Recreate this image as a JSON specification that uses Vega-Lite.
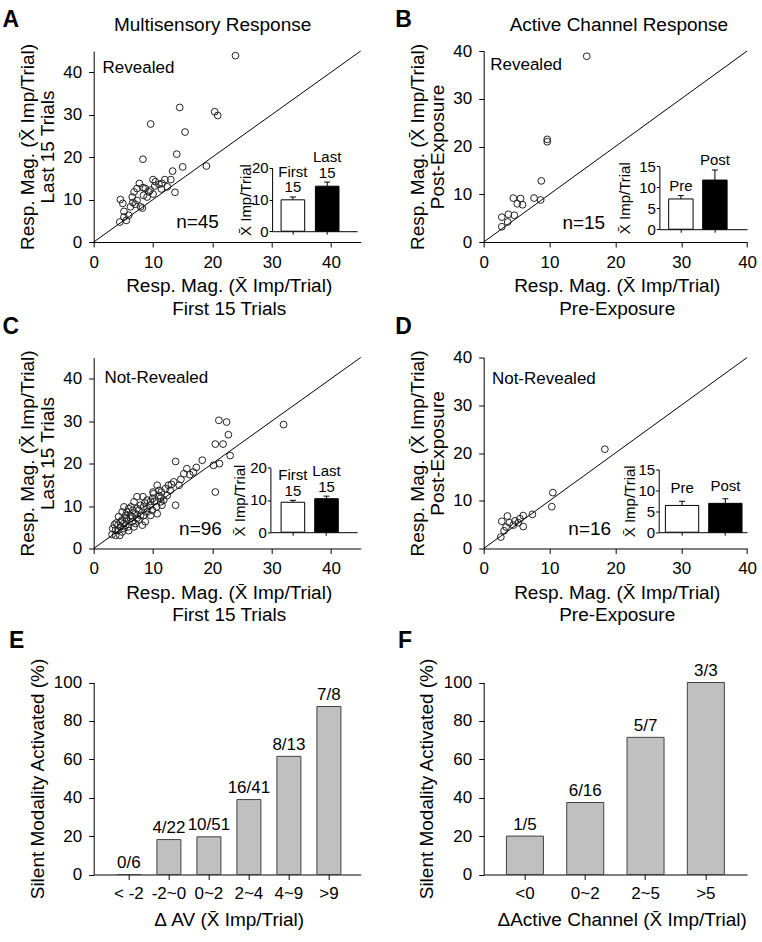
{
"$schema": "https://vega.github.io/schema/vega-lite/v6.json",
"background": "white",
"padding": {"left": 1.7, "top": 8, "right": 0, "bottom": 0},
"columns": 2,
"bounds": "flush",
"spacing": {"row": 115.5, "column": 123},
"config": {
 "font": "Liberation Sans",
 "view": {"stroke": null},
 "axis": {"grid": false, "domainColor": "#000", "tickColor": "#000", "labelColor": "#000", "titleColor": "#000", "titleFontWeight": "normal", "labelFont": "Liberation Sans", "titleFont": "Liberation Sans", "labelFontSize": 17, "titleFontSize": 19, "tickSize": 5, "labelPadding": 7, "labelFlush": false, "labelOverlap": false, "domainWidth": 1, "tickWidth": 1},
 "text": {"font": "Liberation Sans", "color": "#000"}
},
"concat": [
{
 "width": 267, "height": 191,
 "resolve": {"scale": {"x": "independent", "y": "independent"}},
 "layer": [
  {
   "data": {"values": [{"x":23.9,"y":43.9},{"x":14.5,"y":31.7},{"x":20.4,"y":30.7},{"x":20.9,"y":29.8},{"x":9.6,"y":27.8},{"x":15.4,"y":25.9},{"x":14.0,"y":20.7},{"x":8.3,"y":19.5},{"x":15.0,"y":17.7},{"x":13.3,"y":16.7},{"x":19.0,"y":17.9},{"x":10.0,"y":14.7},{"x":12.0,"y":14.7},{"x":13.0,"y":14.7},{"x":7.7,"y":13.8},{"x":8.3,"y":12.8},{"x":10.3,"y":13.2},{"x":11.0,"y":13.6},{"x":9.5,"y":12.2},{"x":11.4,"y":12.5},{"x":6.8,"y":11.8},{"x":9.3,"y":11.8},{"x":8.4,"y":11.0},{"x":10.0,"y":11.3},{"x":13.7,"y":11.7},{"x":4.5,"y":10.0},{"x":4.9,"y":9.1},{"x":6.6,"y":9.3},{"x":7.0,"y":8.9},{"x":8.2,"y":8.0},{"x":5.1,"y":7.2},{"x":5.5,"y":5.1},{"x":4.4,"y":4.7},{"x":5.9,"y":6.3},{"x":8.7,"y":12.6},{"x":7.3,"y":9.8},{"x":6.2,"y":8.3},{"x":7.9,"y":8.3},{"x":9.0,"y":10.6},{"x":11.5,"y":13.8},{"x":12.4,"y":13.0},{"x":7.3,"y":12.6},{"x":5.1,"y":5.9},{"x":6.5,"y":10.6},{"x":10.4,"y":14.2}]},
   "mark": {"type": "point", "shape": "circle", "filled": false, "stroke": "#222", "strokeWidth": 1, "size": 46, "opacity": 1},
   "encoding": {
    "x": {"field": "x", "type": "quantitative", "scale": {"domain": [0, 45], "nice": false, "zero": false}, "axis": {"values": [0,10,20,30,40], "title": ["Resp. Mag. (X\u0304 Imp/Trial)", "First 15 Trials"], "titleX": 135, "titleY": 49.8, "titleAlign": "center", "titleBaseline": "alphabetic", "titleLineHeight": 22.4, "titleAngle": 0}},
    "y": {"field": "y", "type": "quantitative", "scale": {"domain": [0, 45], "nice": false, "zero": false}, "axis": {"values": [0,10,20,30,40], "title": ["Resp. Mag. (X\u0304 Imp/Trial)", "Last 15 Trials"], "titleX": -60, "titleY": 95.5, "titleAlign": "center", "titleBaseline": "alphabetic", "titleLineHeight": 20, "titleAngle": -90}}
   }
  },
  {
   "data": {"values": [{}]},
   "mark": {"type": "rule", "color": "#000", "strokeWidth": 1},
   "encoding": {
    "x": {"datum": 0, "type": "quantitative", "scale": {"domain": [0, 45], "nice": false}, "axis": {"orient": "top", "title": "Multisensory Response", "domain": false, "ticks": false, "labels": false, "titleX": 118.4, "titleY": -20.5, "titleAlign": "center", "titleBaseline": "alphabetic", "titleAngle": 0}},
    "y": {"datum": 0, "type": "quantitative", "scale": {"domain": [0, 45], "nice": false}, "axis": null},
    "x2": {"datum": 45}, "y2": {"datum": 45}
   }
  },
  {
   "data": {"values": [{"t": "Revealed"}]},
   "mark": {"type": "text", "align": "left", "baseline": "middle", "fontSize": 17},
   "encoding": {
    "x": {"datum": 1.5, "type": "quantitative", "scale": {"domain": [0, 45], "nice": false}, "axis": {"orient": "top", "title": "A", "domain": false, "ticks": false, "labels": false, "titleX": -91.6, "titleY": -24.8, "titleAlign": "left", "titleBaseline": "alphabetic", "titleAngle": 0, "titleFontSize": 23, "titleFontWeight": "bold"}},
    "y": {"datum": 41, "type": "quantitative", "scale": {"domain": [0, 45], "nice": false}, "axis": null},
    "text": {"field": "t"}
   }
  },
  {
   "data": {"values": [{"t": "n=45"}]},
   "mark": {"type": "text", "align": "center", "baseline": "middle", "fontSize": 19},
   "encoding": {
    "x": {"datum": 17.5, "type": "quantitative", "scale": {"domain": [0, 45], "nice": false}, "axis": null},
    "y": {"datum": 4.6, "type": "quantitative", "scale": {"domain": [0, 45], "nice": false}, "axis": null},
    "text": {"field": "t"}
   }
  },
  {
   "data": {"values": [{"g":"First 15","m":9.9,"hi":10.8},{"g":"Last 15","m":14.2,"hi":15.5}]},
   "mark": {"type": "bar", "stroke": "#000", "strokeWidth": 1},
   "encoding": {
    "x": {"field": "g", "type": "nominal", "sort": null, "scale": {"type": "band", "domain": ["First 15","Last 15"], "range": [178.4, 263.4], "paddingInner": 0.312, "paddingOuter": 0.395, "align": 0.332}, "axis": {"orient": "bottom", "offset": -10.8, "title": null, "labels": false, "tickSize": 3}},
    "y": {"field": "m", "type": "quantitative", "scale": {"domain": [0, 20], "range": [180.2, 116.8], "nice": false}, "axis": {"orient": "left", "offset": -178.4, "values": [0,10,20], "labelFontSize": 15, "tickSize": 3, "labelPadding": 1, "title": "X\u0304 Imp/Trial", "titleFontSize": 15, "titleX": -21.7, "titleY": 148.5, "titleAlign": "center", "titleBaseline": "alphabetic", "titleAngle": -90}},
    "fill": {"field": "g", "type": "nominal", "scale": {"domain": ["First 15","Last 15"], "range": ["#ffffff","#000000"]}, "legend": null}
   }
  },
  {
   "data": {"values": [{"g":"First 15","m":9.9,"hi":10.8},{"g":"Last 15","m":14.2,"hi":15.5}]},
   "mark": {"type": "rule", "color": "#000", "strokeWidth": 1},
   "encoding": {
    "x": {"field": "g", "type": "nominal", "sort": null, "scale": {"type": "band", "domain": ["First 15","Last 15"], "range": [178.4, 263.4], "paddingInner": 0.312, "paddingOuter": 0.395, "align": 0.332}, "axis": null},
    "y": {"field": "m", "type": "quantitative", "scale": {"domain": [0, 20], "range": [180.2, 116.8], "nice": false}, "axis": null},
    "y2": {"field": "hi"}
   }
  },
  {
   "data": {"values": [{"g":"First 15","m":9.9,"hi":10.8},{"g":"Last 15","m":14.2,"hi":15.5}]},
   "mark": {"type": "tick", "orient": "horizontal", "size": 6, "thickness": 1, "color": "#000", "opacity": 1},
   "encoding": {
    "x": {"field": "g", "type": "nominal", "sort": null, "scale": {"type": "band", "domain": ["First 15","Last 15"], "range": [178.4, 263.4], "paddingInner": 0.312, "paddingOuter": 0.395, "align": 0.332}, "axis": null},
    "y": {"field": "hi", "type": "quantitative", "scale": {"domain": [0, 20], "range": [180.2, 116.8], "nice": false}, "axis": null}
   }
  },
  {
   "data": {"values": [{"g":"First 15","m":9.9,"hi":10.8},{"g":"Last 15","m":14.2,"hi":15.5}]},
   "mark": {"type": "text", "baseline": "bottom", "dy": -17, "fontSize": 15, "lineBreak": " ", "lineHeight": 15.5},
   "encoding": {
    "x": {"field": "g", "type": "nominal", "sort": null, "scale": {"type": "band", "domain": ["First 15","Last 15"], "range": [178.4, 263.4], "paddingInner": 0.312, "paddingOuter": 0.395, "align": 0.332}, "axis": null},
    "y": {"field": "hi", "type": "quantitative", "scale": {"domain": [0, 20], "range": [180.2, 116.8], "nice": false}, "axis": null},
    "text": {"field": "g"}
   }
  }
 ]
},
{
 "width": 263.4, "height": 191,
 "resolve": {"scale": {"x": "independent", "y": "independent"}},
 "layer": [
  {
   "data": {"values": [{"x":15.65,"y":38.9},{"x":9.65,"y":21.5},{"x":9.65,"y":21.0},{"x":8.75,"y":12.8},{"x":4.5,"y":9.2},{"x":5.6,"y":9.1},{"x":5.1,"y":8.0},{"x":5.9,"y":7.8},{"x":7.65,"y":9.2},{"x":8.65,"y":8.8},{"x":3.75,"y":5.8},{"x":2.75,"y":5.2},{"x":4.65,"y":5.6},{"x":3.65,"y":4.2},{"x":2.75,"y":3.2}]},
   "mark": {"type": "point", "shape": "circle", "filled": false, "stroke": "#222", "strokeWidth": 1, "size": 46, "opacity": 1},
   "encoding": {
    "x": {"field": "x", "type": "quantitative", "scale": {"domain": [0, 40], "nice": false, "zero": false}, "axis": {"values": [0,10,20,30,40], "title": ["Resp. Mag. (X\u0304 Imp/Trial)", "Pre-Exposure"], "titleX": 133, "titleY": 49.8, "titleAlign": "center", "titleBaseline": "alphabetic", "titleLineHeight": 22.4, "titleAngle": 0}},
    "y": {"field": "y", "type": "quantitative", "scale": {"domain": [0, 40], "nice": false, "zero": false}, "axis": {"values": [0,10,20,30,40], "title": ["Resp. Mag. (X\u0304 Imp/Trial)", "Post-Exposure"], "titleX": -60, "titleY": 95.5, "titleAlign": "center", "titleBaseline": "alphabetic", "titleLineHeight": 20, "titleAngle": -90}}
   }
  },
  {
   "data": {"values": [{}]},
   "mark": {"type": "rule", "color": "#000", "strokeWidth": 1},
   "encoding": {
    "x": {"datum": 0, "type": "quantitative", "scale": {"domain": [0, 40], "nice": false}, "axis": {"orient": "top", "title": "Active Channel Response", "domain": false, "ticks": false, "labels": false, "titleX": 134.7, "titleY": -20.5, "titleAlign": "center", "titleBaseline": "alphabetic", "titleAngle": 0}},
    "y": {"datum": 0, "type": "quantitative", "scale": {"domain": [0, 40], "nice": false}, "axis": null},
    "x2": {"datum": 40}, "y2": {"datum": 40}
   }
  },
  {
   "data": {"values": [{"t": "Revealed"}]},
   "mark": {"type": "text", "align": "left", "baseline": "middle", "fontSize": 17},
   "encoding": {
    "x": {"datum": 1.0, "type": "quantitative", "scale": {"domain": [0, 40], "nice": false}, "axis": {"orient": "top", "title": "B", "domain": false, "ticks": false, "labels": false, "titleX": -89, "titleY": -24.8, "titleAlign": "left", "titleBaseline": "alphabetic", "titleAngle": 0, "titleFontSize": 23, "titleFontWeight": "bold"}},
    "y": {"datum": 37, "type": "quantitative", "scale": {"domain": [0, 40], "nice": false}, "axis": null},
    "text": {"field": "t"}
   }
  },
  {
   "data": {"values": [{"t": "n=15"}]},
   "mark": {"type": "text", "align": "center", "baseline": "middle", "fontSize": 19},
   "encoding": {
    "x": {"datum": 15.2, "type": "quantitative", "scale": {"domain": [0, 40], "nice": false}, "axis": null},
    "y": {"datum": 3.9, "type": "quantitative", "scale": {"domain": [0, 40], "nice": false}, "axis": null},
    "text": {"field": "t"}
   }
  },
  {
   "data": {"values": [{"g":"Pre","m":7.2,"hi":8.0},{"g":"Post","m":11.7,"hi":14.1}]},
   "mark": {"type": "bar", "stroke": "#000", "strokeWidth": 1},
   "encoding": {
    "x": {"field": "g", "type": "nominal", "sort": null, "scale": {"type": "band", "domain": ["Pre","Post"], "range": [175.7, 263.4], "paddingInner": 0.282, "paddingOuter": 0.43, "align": 0.317}, "axis": {"orient": "bottom", "offset": -12.8, "title": null, "labels": false, "tickSize": 3}},
    "y": {"field": "m", "type": "quantitative", "scale": {"domain": [0, 15], "range": [178.2, 115.2], "nice": false}, "axis": {"orient": "left", "offset": -175.7, "values": [0,5,10,15], "labelFontSize": 15, "tickSize": 3, "labelPadding": 1, "title": "X\u0304 Imp/Trial", "titleFontSize": 15, "titleX": -30, "titleY": 146.7, "titleAlign": "center", "titleBaseline": "alphabetic", "titleAngle": -90}},
    "fill": {"field": "g", "type": "nominal", "scale": {"domain": ["Pre","Post"], "range": ["#ffffff","#000000"]}, "legend": null}
   }
  },
  {
   "data": {"values": [{"g":"Pre","m":7.2,"hi":8.0},{"g":"Post","m":11.7,"hi":14.1}]},
   "mark": {"type": "rule", "color": "#000", "strokeWidth": 1},
   "encoding": {
    "x": {"field": "g", "type": "nominal", "sort": null, "scale": {"type": "band", "domain": ["Pre","Post"], "range": [175.7, 263.4], "paddingInner": 0.282, "paddingOuter": 0.43, "align": 0.317}, "axis": null},
    "y": {"field": "m", "type": "quantitative", "scale": {"domain": [0, 15], "range": [178.2, 115.2], "nice": false}, "axis": null},
    "y2": {"field": "hi"}
   }
  },
  {
   "data": {"values": [{"g":"Pre","m":7.2,"hi":8.0},{"g":"Post","m":11.7,"hi":14.1}]},
   "mark": {"type": "tick", "orient": "horizontal", "size": 6, "thickness": 1, "color": "#000", "opacity": 1},
   "encoding": {
    "x": {"field": "g", "type": "nominal", "sort": null, "scale": {"type": "band", "domain": ["Pre","Post"], "range": [175.7, 263.4], "paddingInner": 0.282, "paddingOuter": 0.43, "align": 0.317}, "axis": null},
    "y": {"field": "hi", "type": "quantitative", "scale": {"domain": [0, 15], "range": [178.2, 115.2], "nice": false}, "axis": null}
   }
  },
  {
   "data": {"values": [{"g":"Pre","m":7.2,"hi":8.0},{"g":"Post","m":11.7,"hi":14.1}]},
   "mark": {"type": "text", "baseline": "bottom", "dy": -2, "fontSize": 15},
   "encoding": {
    "x": {"field": "g", "type": "nominal", "sort": null, "scale": {"type": "band", "domain": ["Pre","Post"], "range": [175.7, 263.4], "paddingInner": 0.282, "paddingOuter": 0.43, "align": 0.317}, "axis": null},
    "y": {"field": "hi", "type": "quantitative", "scale": {"domain": [0, 15], "range": [178.2, 115.2], "nice": false}, "axis": null},
    "text": {"field": "g"}
   }
  }
 ]
},
{
 "width": 267, "height": 191,
 "resolve": {"scale": {"x": "independent", "y": "independent"}},
 "layer": [
  {
   "data": {"values": [{"x":21.1,"y":30.2},{"x":22.4,"y":29.8},{"x":32.0,"y":29.2},{"x":22.7,"y":26.8},{"x":20.5,"y":24.6},{"x":21.8,"y":24.6},{"x":23.0,"y":21.9},{"x":21.2,"y":20.0},{"x":20.2,"y":19.6},{"x":18.3,"y":20.8},{"x":17.3,"y":19.1},{"x":16.2,"y":17.4},{"x":15.7,"y":18.8},{"x":15.2,"y":17.6},{"x":14.7,"y":16.3},{"x":13.8,"y":20.5},{"x":13.1,"y":15.1},{"x":12.1,"y":14.1},{"x":20.5,"y":13.3},{"x":13.8,"y":10.2},{"x":11.0,"y":13.7},{"x":10.0,"y":13.3},{"x":8.3,"y":12.2},{"x":11.3,"y":11.9},{"x":11.5,"y":10.2},{"x":10.7,"y":8.2},{"x":9.6,"y":11.1},{"x":9.0,"y":9.4},{"x":10.6,"y":9.8},{"x":9.9,"y":9.0},{"x":7.9,"y":10.2},{"x":6.3,"y":9.8},{"x":5.1,"y":9.8},{"x":7.0,"y":8.2},{"x":6.2,"y":7.8},{"x":5.4,"y":7.8},{"x":4.2,"y":7.5},{"x":4.8,"y":6.7},{"x":5.6,"y":6.7},{"x":6.5,"y":6.3},{"x":8.2,"y":5.5},{"x":3.8,"y":6.0},{"x":4.5,"y":5.1},{"x":5.8,"y":5.1},{"x":3.7,"y":4.3},{"x":4.8,"y":3.9},{"x":5.9,"y":4.2},{"x":3.1,"y":3.3},{"x":4.4,"y":3.1},{"x":3.5,"y":5.6},{"x":7.3,"y":7.1},{"x":8.4,"y":7.8},{"x":7.6,"y":9.0},{"x":6.8,"y":11.0},{"x":9.0,"y":11.4},{"x":10.1,"y":12.9},{"x":12.4,"y":12.5},{"x":12.9,"y":13.7},{"x":14.4,"y":14.9},{"x":16.8,"y":18.0},{"x":11.3,"y":11.0},{"x":8.4,"y":9.8},{"x":5.6,"y":8.6},{"x":5.1,"y":5.9},{"x":6.8,"y":5.1},{"x":4.1,"y":4.3},{"x":3.2,"y":4.7},{"x":5.4,"y":5.5},{"x":6.2,"y":7.1},{"x":7.3,"y":9.4},{"x":9.5,"y":10.2},{"x":10.2,"y":11.0},{"x":11.8,"y":11.4},{"x":11.0,"y":12.5},{"x":9.6,"y":7.8},{"x":7.9,"y":7.8},{"x":4.8,"y":8.6},{"x":5.9,"y":9.4},{"x":8.7,"y":6.3},{"x":7.0,"y":5.9},{"x":4.5,"y":6.3},{"x":3.7,"y":3.1},{"x":5.1,"y":4.7},{"x":6.6,"y":9.0},{"x":8.6,"y":10.7},{"x":12.6,"y":14.9},{"x":13.5,"y":15.7},{"x":10.7,"y":14.9},{"x":9.9,"y":11.8},{"x":7.3,"y":12.2},{"x":6.5,"y":7.5},{"x":5.5,"y":7.2},{"x":4.1,"y":5.5},{"x":7.6,"y":6.7},{"x":9.0,"y":8.6},{"x":11.4,"y":13.3}]},
   "mark": {"type": "point", "shape": "circle", "filled": false, "stroke": "#222", "strokeWidth": 1, "size": 46, "opacity": 1},
   "encoding": {
    "x": {"field": "x", "type": "quantitative", "scale": {"domain": [0, 45], "nice": false, "zero": false}, "axis": {"values": [0,10,20,30,40], "title": ["Resp. Mag. (X\u0304 Imp/Trial)", "First 15 Trials"], "titleX": 135, "titleY": 49.8, "titleAlign": "center", "titleBaseline": "alphabetic", "titleLineHeight": 22.4, "titleAngle": 0}},
    "y": {"field": "y", "type": "quantitative", "scale": {"domain": [0, 45], "nice": false, "zero": false}, "axis": {"values": [0,10,20,30,40], "title": ["Resp. Mag. (X\u0304 Imp/Trial)", "Last 15 Trials"], "titleX": -60, "titleY": 95.5, "titleAlign": "center", "titleBaseline": "alphabetic", "titleLineHeight": 20, "titleAngle": -90}}
   }
  },
  {
   "data": {"values": [{}]},
   "mark": {"type": "rule", "color": "#000", "strokeWidth": 1},
   "encoding": {
    "x": {"datum": 0, "type": "quantitative", "scale": {"domain": [0, 45], "nice": false}, "axis": null},
    "y": {"datum": 0, "type": "quantitative", "scale": {"domain": [0, 45], "nice": false}, "axis": null},
    "x2": {"datum": 45}, "y2": {"datum": 45}
   }
  },
  {
   "data": {"values": [{"t": "Not-Revealed"}]},
   "mark": {"type": "text", "align": "left", "baseline": "middle", "fontSize": 17},
   "encoding": {
    "x": {"datum": 1.8, "type": "quantitative", "scale": {"domain": [0, 45], "nice": false}, "axis": {"orient": "top", "title": "C", "domain": false, "ticks": false, "labels": false, "titleX": -91.6, "titleY": -24, "titleAlign": "left", "titleBaseline": "alphabetic", "titleAngle": 0, "titleFontSize": 23, "titleFontWeight": "bold"}},
    "y": {"datum": 40.2, "type": "quantitative", "scale": {"domain": [0, 45], "nice": false}, "axis": null},
    "text": {"field": "t"}
   }
  },
  {
   "data": {"values": [{"t": "n=96"}]},
   "mark": {"type": "text", "align": "center", "baseline": "middle", "fontSize": 19},
   "encoding": {
    "x": {"datum": 18.0, "type": "quantitative", "scale": {"domain": [0, 45], "nice": false}, "axis": null},
    "y": {"datum": 4.7, "type": "quantitative", "scale": {"domain": [0, 45], "nice": false}, "axis": null},
    "text": {"field": "t"}
   }
  },
  {
   "data": {"values": [{"g":"First 15","m":9.3,"hi":9.9},{"g":"Last 15","m":10.4,"hi":11.2}]},
   "mark": {"type": "bar", "stroke": "#000", "strokeWidth": 1},
   "encoding": {
    "x": {"field": "g", "type": "nominal", "sort": null, "scale": {"type": "band", "domain": ["First 15","Last 15"], "range": [176.7, 263.4], "paddingInner": 0.298, "paddingOuter": 0.439, "align": 0.363}, "axis": {"orient": "bottom", "offset": -16.3, "title": null, "labels": false, "tickSize": 3}},
    "y": {"field": "m", "type": "quantitative", "scale": {"domain": [0, 20], "range": [174.7, 110.3], "nice": false}, "axis": {"orient": "left", "offset": -176.7, "values": [0,10,20], "labelFontSize": 15, "tickSize": 3, "labelPadding": 1, "title": "X\u0304 Imp/Trial", "titleFontSize": 15, "titleX": -26, "titleY": 142.5, "titleAlign": "center", "titleBaseline": "alphabetic", "titleAngle": -90}},
    "fill": {"field": "g", "type": "nominal", "scale": {"domain": ["First 15","Last 15"], "range": ["#ffffff","#000000"]}, "legend": null}
   }
  },
  {
   "data": {"values": [{"g":"First 15","m":9.3,"hi":9.9},{"g":"Last 15","m":10.4,"hi":11.2}]},
   "mark": {"type": "rule", "color": "#000", "strokeWidth": 1},
   "encoding": {
    "x": {"field": "g", "type": "nominal", "sort": null, "scale": {"type": "band", "domain": ["First 15","Last 15"], "range": [176.7, 263.4], "paddingInner": 0.298, "paddingOuter": 0.439, "align": 0.363}, "axis": null},
    "y": {"field": "m", "type": "quantitative", "scale": {"domain": [0, 20], "range": [174.7, 110.3], "nice": false}, "axis": null},
    "y2": {"field": "hi"}
   }
  },
  {
   "data": {"values": [{"g":"First 15","m":9.3,"hi":9.9},{"g":"Last 15","m":10.4,"hi":11.2}]},
   "mark": {"type": "tick", "orient": "horizontal", "size": 6, "thickness": 1, "color": "#000", "opacity": 1},
   "encoding": {
    "x": {"field": "g", "type": "nominal", "sort": null, "scale": {"type": "band", "domain": ["First 15","Last 15"], "range": [176.7, 263.4], "paddingInner": 0.298, "paddingOuter": 0.439, "align": 0.363}, "axis": null},
    "y": {"field": "hi", "type": "quantitative", "scale": {"domain": [0, 20], "range": [174.7, 110.3], "nice": false}, "axis": null}
   }
  },
  {
   "data": {"values": [{"g":"First 15","m":9.3,"hi":9.9},{"g":"Last 15","m":10.4,"hi":11.2}]},
   "mark": {"type": "text", "baseline": "bottom", "dy": -17, "fontSize": 15, "lineBreak": " ", "lineHeight": 15.5},
   "encoding": {
    "x": {"field": "g", "type": "nominal", "sort": null, "scale": {"type": "band", "domain": ["First 15","Last 15"], "range": [176.7, 263.4], "paddingInner": 0.298, "paddingOuter": 0.439, "align": 0.363}, "axis": null},
    "y": {"field": "hi", "type": "quantitative", "scale": {"domain": [0, 20], "range": [174.7, 110.3], "nice": false}, "axis": null},
    "text": {"field": "g"}
   }
  }
 ]
},
{
 "width": 263.4, "height": 191,
 "resolve": {"scale": {"x": "independent", "y": "independent"}},
 "layer": [
  {
   "data": {"values": [{"x":18.4,"y":20.8},{"x":10.5,"y":11.7},{"x":10.35,"y":8.75},{"x":7.4,"y":7.15},{"x":6.0,"y":6.9},{"x":6.0,"y":4.6},{"x":4.75,"y":5.8},{"x":3.6,"y":6.8},{"x":2.75,"y":5.7},{"x":3.9,"y":5.4},{"x":4.5,"y":4.9},{"x":5.5,"y":6.25},{"x":3.4,"y":4.5},{"x":3.1,"y":3.7},{"x":2.6,"y":2.4},{"x":5.25,"y":5.4}]},
   "mark": {"type": "point", "shape": "circle", "filled": false, "stroke": "#222", "strokeWidth": 1, "size": 46, "opacity": 1},
   "encoding": {
    "x": {"field": "x", "type": "quantitative", "scale": {"domain": [0, 40], "nice": false, "zero": false}, "axis": {"values": [0,10,20,30,40], "title": ["Resp. Mag. (X\u0304 Imp/Trial)", "Pre-Exposure"], "titleX": 133, "titleY": 49.8, "titleAlign": "center", "titleBaseline": "alphabetic", "titleLineHeight": 22.4, "titleAngle": 0}},
    "y": {"field": "y", "type": "quantitative", "scale": {"domain": [0, 40], "nice": false, "zero": false}, "axis": {"values": [0,10,20,30,40], "title": ["Resp. Mag. (X\u0304 Imp/Trial)", "Post-Exposure"], "titleX": -60, "titleY": 95.5, "titleAlign": "center", "titleBaseline": "alphabetic", "titleLineHeight": 20, "titleAngle": -90}}
   }
  },
  {
   "data": {"values": [{}]},
   "mark": {"type": "rule", "color": "#000", "strokeWidth": 1},
   "encoding": {
    "x": {"datum": 0, "type": "quantitative", "scale": {"domain": [0, 40], "nice": false}, "axis": null},
    "y": {"datum": 0, "type": "quantitative", "scale": {"domain": [0, 40], "nice": false}, "axis": null},
    "x2": {"datum": 40}, "y2": {"datum": 40}
   }
  },
  {
   "data": {"values": [{"t": "Not-Revealed"}]},
   "mark": {"type": "text", "align": "left", "baseline": "middle", "fontSize": 17},
   "encoding": {
    "x": {"datum": 1.25, "type": "quantitative", "scale": {"domain": [0, 40], "nice": false}, "axis": {"orient": "top", "title": "D", "domain": false, "ticks": false, "labels": false, "titleX": -89, "titleY": -24, "titleAlign": "left", "titleBaseline": "alphabetic", "titleAngle": 0, "titleFontSize": 23, "titleFontWeight": "bold"}},
    "y": {"datum": 35.6, "type": "quantitative", "scale": {"domain": [0, 40], "nice": false}, "axis": null},
    "text": {"field": "t"}
   }
  },
  {
   "data": {"values": [{"t": "n=16"}]},
   "mark": {"type": "text", "align": "center", "baseline": "middle", "fontSize": 19},
   "encoding": {
    "x": {"datum": 16.1, "type": "quantitative", "scale": {"domain": [0, 40], "nice": false}, "axis": null},
    "y": {"datum": 4.0, "type": "quantitative", "scale": {"domain": [0, 40], "nice": false}, "axis": null},
    "text": {"field": "t"}
   }
  },
  {
   "data": {"values": [{"g":"Pre","m":6.4,"hi":7.4},{"g":"Post","m":6.9,"hi":8.0}]},
   "mark": {"type": "bar", "stroke": "#000", "strokeWidth": 1},
   "encoding": {
    "x": {"field": "g", "type": "nominal", "sort": null, "scale": {"type": "band", "domain": ["Pre","Post"], "range": [175, 263.4], "paddingInner": 0.231, "paddingOuter": 0.136, "align": 0.57}, "axis": {"orient": "bottom", "offset": -16.3, "title": null, "labels": false, "tickSize": 3}},
    "y": {"field": "m", "type": "quantitative", "scale": {"domain": [0, 15], "range": [174.7, 112], "nice": false}, "axis": {"orient": "left", "offset": -175, "values": [0,5,10,15], "labelFontSize": 15, "tickSize": 3, "labelPadding": 1, "title": "X\u0304 Imp/Trial", "titleFontSize": 15, "titleX": -24, "titleY": 143.3, "titleAlign": "center", "titleBaseline": "alphabetic", "titleAngle": -90}},
    "fill": {"field": "g", "type": "nominal", "scale": {"domain": ["Pre","Post"], "range": ["#ffffff","#000000"]}, "legend": null}
   }
  },
  {
   "data": {"values": [{"g":"Pre","m":6.4,"hi":7.4},{"g":"Post","m":6.9,"hi":8.0}]},
   "mark": {"type": "rule", "color": "#000", "strokeWidth": 1},
   "encoding": {
    "x": {"field": "g", "type": "nominal", "sort": null, "scale": {"type": "band", "domain": ["Pre","Post"], "range": [175, 263.4], "paddingInner": 0.231, "paddingOuter": 0.136, "align": 0.57}, "axis": null},
    "y": {"field": "m", "type": "quantitative", "scale": {"domain": [0, 15], "range": [174.7, 112], "nice": false}, "axis": null},
    "y2": {"field": "hi"}
   }
  },
  {
   "data": {"values": [{"g":"Pre","m":6.4,"hi":7.4},{"g":"Post","m":6.9,"hi":8.0}]},
   "mark": {"type": "tick", "orient": "horizontal", "size": 6, "thickness": 1, "color": "#000", "opacity": 1},
   "encoding": {
    "x": {"field": "g", "type": "nominal", "sort": null, "scale": {"type": "band", "domain": ["Pre","Post"], "range": [175, 263.4], "paddingInner": 0.231, "paddingOuter": 0.136, "align": 0.57}, "axis": null},
    "y": {"field": "hi", "type": "quantitative", "scale": {"domain": [0, 15], "range": [174.7, 112], "nice": false}, "axis": null}
   }
  },
  {
   "data": {"values": [{"g":"Pre","m":6.4,"hi":7.4},{"g":"Post","m":6.9,"hi":8.0}]},
   "mark": {"type": "text", "baseline": "bottom", "dy": -5, "fontSize": 15},
   "encoding": {
    "x": {"field": "g", "type": "nominal", "sort": null, "scale": {"type": "band", "domain": ["Pre","Post"], "range": [175, 263.4], "paddingInner": 0.231, "paddingOuter": 0.136, "align": 0.57}, "axis": null},
    "y": {"field": "hi", "type": "quantitative", "scale": {"domain": [0, 15], "range": [174.7, 112], "nice": false}, "axis": null},
    "text": {"field": "g"}
   }
  }
 ]
},
{
 "width": 267, "height": 210.5,
 "data": {"values": [{"bin":"< -2","pct":0,"label":"0/6"},{"bin":"-2~0","pct":18.18,"label":"4/22"},{"bin":"0~2","pct":19.61,"label":"10/51"},{"bin":"2~4","pct":39.02,"label":"16/41"},{"bin":"4~9","pct":61.54,"label":"8/13"},{"bin":">9","pct":87.5,"label":"7/8"}]},
 "resolve": {"axis": {"x": "independent"}},
 "layer": [
  {
   "mark": {"type": "bar", "fill": "#c0c0c0", "stroke": "#404040", "strokeWidth": 1},
   "encoding": {
    "x": {"field": "bin", "type": "nominal", "sort": null, "scale": {"type": "band", "domain": ["< -2","-2~0","0~2","2~4","4~9",">9"], "paddingInner": 0.4, "paddingOuter": 0.5375, "align": 0.54}, "axis": {"labelAngle": 0, "labelPadding": 6, "title": "\u0394 AV (X\u0304 Imp/Trial)", "titleX": 135, "titleY": 51, "titleAlign": "center", "titleBaseline": "alphabetic", "titleAngle": 0}},
    "y": {"field": "pct", "type": "quantitative", "scale": {"domain": [0, 100], "range": [210.5, 18.5], "nice": false}, "axis": {"values": [0,20,40,60,80,100], "title": "Silent Modality Activated (%)", "titleX": -50, "titleY": 114.5, "titleAlign": "center", "titleBaseline": "alphabetic", "titleAngle": -90}}
   }
  },
  {
   "mark": {"type": "text", "baseline": "bottom", "dy": -2.5, "fontSize": 17},
   "encoding": {
    "x": {"field": "bin", "type": "nominal", "sort": null, "axis": {"orient": "top", "title": "E", "domain": false, "ticks": false, "labels": false, "titleX": -85.3, "titleY": -16.2, "titleAlign": "left", "titleBaseline": "alphabetic", "titleAngle": 0, "titleFontSize": 23, "titleFontWeight": "bold"}},
    "y": {"field": "pct", "type": "quantitative"},
    "text": {"field": "label"}
   }
  }
 ]
},
{
 "width": 263.4, "height": 210.5,
 "data": {"values": [{"bin":"<0","pct":20,"label":"1/5"},{"bin":"0~2","pct":37.5,"label":"6/16"},{"bin":"2~5","pct":71.43,"label":"5/7"},{"bin":">5","pct":100,"label":"3/3"}]},
 "resolve": {"axis": {"x": "independent"}},
 "layer": [
  {
   "mark": {"type": "bar", "fill": "#c0c0c0", "stroke": "#404040", "strokeWidth": 1},
   "encoding": {
    "x": {"field": "bin", "type": "nominal", "sort": null, "scale": {"type": "band", "domain": ["<0","0~2","2~5",">5"], "paddingInner": 0.386, "paddingOuter": 0.377, "align": 0.5}, "axis": {"labelAngle": 0, "labelPadding": 6, "title": "\u0394Active Channel (X\u0304 Imp/Trial)", "titleX": 138, "titleY": 51, "titleAlign": "center", "titleBaseline": "alphabetic", "titleAngle": 0}},
    "y": {"field": "pct", "type": "quantitative", "scale": {"domain": [0, 100], "range": [210.5, 18.5], "nice": false}, "axis": {"values": [0,20,40,60,80,100], "title": "Silent Modality Activated (%)", "titleX": -51, "titleY": 114.5, "titleAlign": "center", "titleBaseline": "alphabetic", "titleAngle": -90}}
   }
  },
  {
   "mark": {"type": "text", "baseline": "bottom", "dy": -2.5, "fontSize": 17},
   "encoding": {
    "x": {"field": "bin", "type": "nominal", "sort": null, "axis": {"orient": "top", "title": "F", "domain": false, "ticks": false, "labels": false, "titleX": -86.3, "titleY": -16.2, "titleAlign": "left", "titleBaseline": "alphabetic", "titleAngle": 0, "titleFontSize": 23, "titleFontWeight": "bold"}},
    "y": {"field": "pct", "type": "quantitative"},
    "text": {"field": "label"}
   }
  }
 ]
}
]
}
